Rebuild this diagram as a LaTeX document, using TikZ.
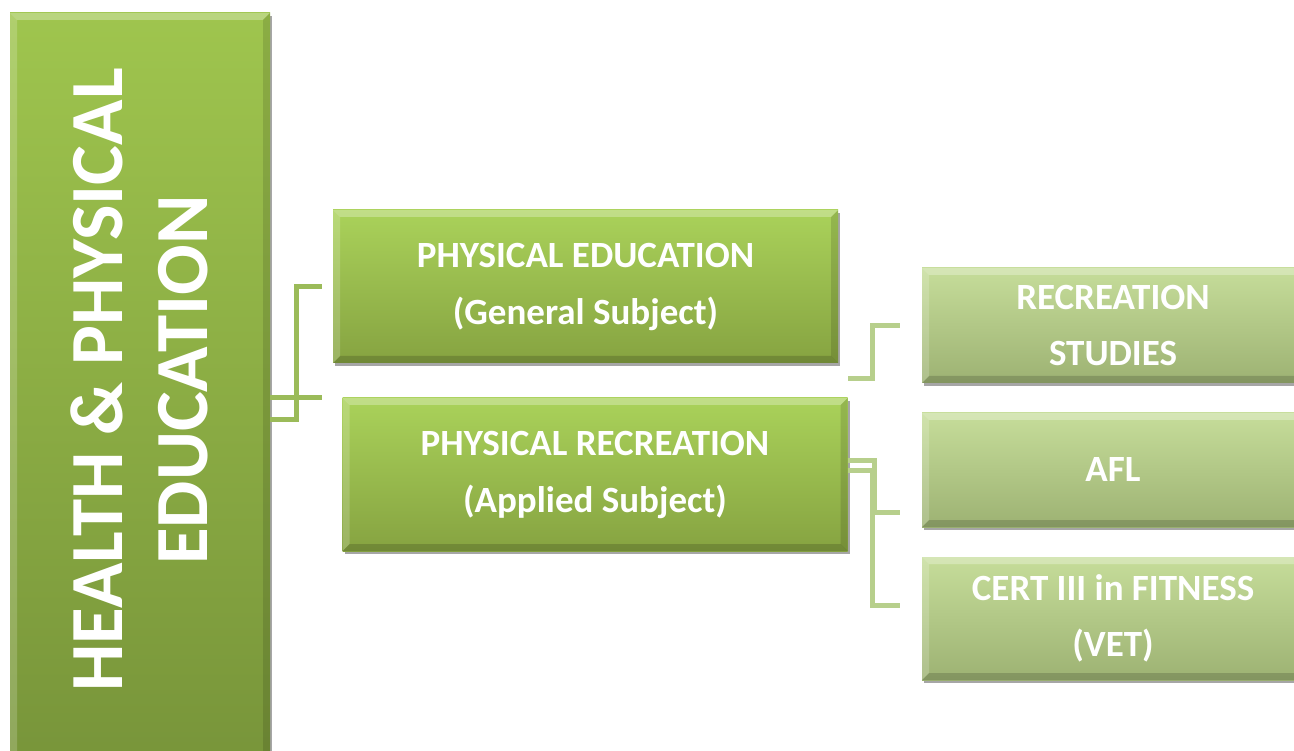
\documentclass[tikz,border=0pt]{standalone}
\usepackage{fontspec}
\setmainfont{Carlito}
\usetikzlibrary{calc,shadows}
\definecolor{mainTop}{HTML}{9FC54E}
\definecolor{mainBot}{HTML}{78953A}
\definecolor{midTop}{HTML}{AAD25A}
\definecolor{midBot}{HTML}{86A341}
\definecolor{rTop}{HTML}{C6DD9A}
\definecolor{rBot}{HTML}{9DB273}
\definecolor{lconnC}{HTML}{9BBB59}
\definecolor{rconnC}{HTML}{B7CF8C}
\tikzset{
  bevel/.style={path picture={
    \fill[white,opacity=0.28] (path picture bounding box.north west) -- (path picture bounding box.north east)
      -- ([xshift=-7pt,yshift=-7pt]path picture bounding box.north east) -- ([xshift=7pt,yshift=-7pt]path picture bounding box.north west) -- cycle;
    \fill[white,opacity=0.18] (path picture bounding box.north west) -- ([xshift=7pt,yshift=-7pt]path picture bounding box.north west)
      -- ([xshift=7pt,yshift=7pt]path picture bounding box.south west) -- (path picture bounding box.south west) -- cycle;
    \fill[black,opacity=0.12] (path picture bounding box.north east) -- ([xshift=-7pt,yshift=-7pt]path picture bounding box.north east)
      -- ([xshift=-7pt,yshift=7pt]path picture bounding box.south east) -- (path picture bounding box.south east) -- cycle;
    \fill[black,opacity=0.16] (path picture bounding box.south west) -- ([xshift=7pt,yshift=7pt]path picture bounding box.south west)
      -- ([xshift=-7pt,yshift=7pt]path picture bounding box.south east) -- (path picture bounding box.south east) -- cycle;
  }},
  shad/.style={drop shadow={shadow xshift=2pt,shadow yshift=-3pt,fill=black,opacity=0.35}},
  mainbox/.style={rectangle,inner sep=0pt,top color=mainTop,bottom color=mainBot,bevel,shad,
    minimum width=260pt,minimum height=747pt},
  midbox/.style={rectangle,inner sep=0pt,top color=midTop,bottom color=midBot,bevel,shad,
    minimum width=505pt,minimum height=153pt,text=white,align=center,
    font=\bfseries\fontsize{37}{57}\selectfont},
  rbox/.style={rectangle,inner sep=0pt,top color=rTop,bottom color=rBot,bevel,shad,
    minimum width=382pt,text=white,align=center,
    font=\bfseries\fontsize{37}{56}\selectfont},
  lconn/.style={draw=lconnC,line width=5pt},
  rconn/.style={draw=rconnC,line width=5pt},
}
\begin{document}
\begin{tikzpicture}[x=1pt,y=-1pt]
\useasboundingbox (0,0) rectangle (1294,751);
\fill[white] (0,0) rectangle (1294,751);
\clip (0,0) rectangle (1294,751);
% boxes
\node[mainbox] (main) at (140,386.5) {};
\node[rotate=90,text=white,align=center,inner sep=0pt,
  font=\bfseries\fontsize{75}{85}\selectfont] (mainlbl) at (139,380) {HEALTH \& PHYSICAL\\EDUCATION};
\node[midbox] (pe) at (585.5,286.5) {PHYSICAL EDUCATION\\(General Subject)};
\node[midbox] (pr) at (595,474.5) {PHYSICAL RECREATION\\(Applied Subject)};
\node[rbox,minimum height=115pt] (rs) at (1113,325.5) {RECREATION\\STUDIES};
\node[rbox,minimum height=114pt] (afl) at (1113,470) {AFL};
\node[rbox,minimum height=123pt] (cert) at (1113,618.5) {CERT III in FITNESS\\(VET)};
% left connectors
\draw[lconn] ($(main.east)+(0,33.5)$) -| ($(pe.west)+(-36,0)$) -- ($(pe.west)+(-11,0)$);
\draw[lconn] ($(main.east)+(0,11.5)$) -- ($(main.east -| pr.west)+(-20,11.5)$);
% right connectors
\draw[rconn] ($(pe.south east)+(10,15)$) -| ($(rs.west)+(-49,0)$) -- ($(rs.west)+(-22,0)$);
\draw[rconn] ($(pr.east)+(0,-14.5)$) -| ($(afl.west)+(-47,42)$) -- ($(afl.west)+(-22,42)$);
\draw[rconn] ($(pr.east)+(0,-4.5)$) -| ($(cert.west)+(-49,-13.5)$) -- ($(cert.west)+(-22,-13.5)$);
\end{tikzpicture}
\end{document}
